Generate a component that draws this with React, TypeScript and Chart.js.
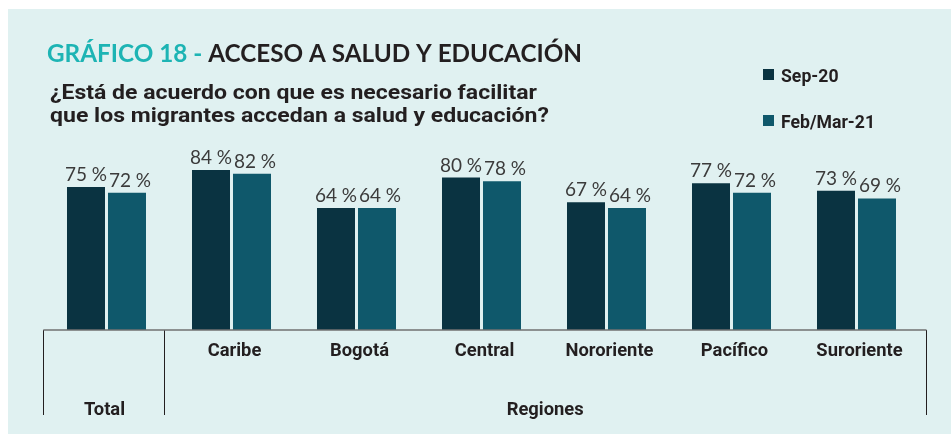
import React, { useEffect, useRef } from "react";
import { Chart, registerables } from "chart.js";

Chart.register(...registerables);

const categories = ["Total", "Caribe", "Bogotá", "Central", "Nororiente", "Pacífico", "Suroriente"];
const sep20 = [75, 84, 64, 80, 67, 77, 73];
const febMar21 = [72, 82, 64, 78, 64, 72, 69];
const seriesLabels = ["Sep-20", "Feb/Mar-21"];
const groupLabel = "Regiones";
const titleLead = "GRÁFICO 18 - ";
const titleMain = "ACCESO A SALUD Y EDUCACIÓN";
const subtitleLines = [
  "¿Está de acuerdo con que es necesario facilitar",
  "que los migrantes accedan a salud y educación?",
];

const BG = "#e0f1f1";
const DARK = "#0a3341";
const TEAL = "#0f586b";
const TEXT = "#231f20";
const TITLE_TEAL = "#1db4b4";
const VALUE_TEXT = "#3b3b3b";

function drawScaled(ctx: CanvasRenderingContext2D, text: string, x: number, y: number, sx: number, align: CanvasTextAlign) {
  ctx.save();
  ctx.translate(x, y);
  ctx.scale(sx, 1);
  ctx.textAlign = align;
  ctx.textBaseline = "alphabetic";
  ctx.fillText(text, 0, 0);
  ctx.restore();
}

const decorPlugin = {
  id: "decor",
  beforeDraw(chart: any) {
    const ctx = chart.ctx as CanvasRenderingContext2D;
    ctx.save();
    ctx.fillStyle = BG;
    ctx.fillRect(0, 0, chart.width, chart.height);
    ctx.restore();
  },
  afterDatasetsDraw(chart: any) {
    const ctx = chart.ctx as CanvasRenderingContext2D;
    const area = chart.chartArea;
    const xScale = chart.scales.x;
    const yScale = chart.scales.y;
    const baseY = yScale.getPixelForValue(0);

    // value labels
    ctx.save();
    ctx.font = "400 19px Lato";
    ctx.fillStyle = VALUE_TEXT;
    ctx.textAlign = "center";
    ctx.textBaseline = "alphabetic";
    chart.data.datasets.forEach((ds: any, di: number) => {
      const meta = chart.getDatasetMeta(di);
      meta.data.forEach((bar: any, i: number) => {
        ctx.fillText(ds.data[i] + " %", bar.x + (di === 1 ? 3 : 0), bar.y - 6);
      });
    });
    ctx.restore();

    // axis lines
    const catW = xScale.getPixelForValue(1) - xScale.getPixelForValue(0);
    const leftX = area.left - 0.7;
    const divX = xScale.getPixelForValue(0) + catW / 2 - 4.7;
    const rightX = area.right + 7;
    const bottomY = baseY + 85;
    ctx.save();
    ctx.strokeStyle = TEXT;
    ctx.lineWidth = 1;
    [leftX, divX, rightX].forEach((x) => {
      ctx.beginPath();
      ctx.moveTo(Math.round(x) + 0.5, baseY);
      ctx.lineTo(Math.round(x) + 0.5, bottomY);
      ctx.stroke();
    });
    ctx.strokeStyle = "#717171";
    ctx.lineWidth = 1.6;
    ctx.beginPath();
    ctx.moveTo(leftX, baseY);
    ctx.lineTo(rightX + 0.5, baseY);
    ctx.stroke();
    ctx.restore();

    // category labels
    ctx.save();
    ctx.font = "bold 18px Roboto";
    ctx.fillStyle = TEXT;
    const labSx = 1.02;
    categories.forEach((c, i) => {
      const x = xScale.getPixelForValue(i) + (i === 0 ? -2 : 3);
      const y = i === 0 ? bottomY : baseY + 26;
      drawScaled(ctx, c, x, y, labSx, "center");
    });
    drawScaled(ctx, groupLabel, (divX + rightX) / 2, bottomY, labSx, "center");

    // legend
    chart.data.datasets.forEach((ds: any, di: number) => {
      const ly = 60 + di * 46;
      ctx.fillStyle = ds.backgroundColor;
      ctx.fillRect(755, ly, 11, 11);
      ctx.fillStyle = TEXT;
      drawScaled(ctx, ds.label, 773, ly + 13, 0.98, "left");
    });
    ctx.restore();

    // title
    ctx.save();
    ctx.font = "bold 25px Lato";
    const wLead = ctx.measureText(titleLead).width;
    const wMain = ctx.measureText(titleMain).width;
    const tSx = 535 / (wLead + wMain);
    ctx.fillStyle = TITLE_TEAL;
    drawScaled(ctx, titleLead, 39, 53, tSx, "left");
    ctx.fillStyle = TEXT;
    drawScaled(ctx, titleMain, 39 + wLead * tSx, 53, tSx, "left");

    ctx.font = "bold 21px Roboto";
    const sSx = 487 / ctx.measureText(subtitleLines[0]).width;
    subtitleLines.forEach((line, i) => {
      drawScaled(ctx, line, 42, 90 + i * 23, sSx, "left");
    });
    ctx.restore();
  },
};

export default function App() {
  const canvasRef = useRef<HTMLCanvasElement | null>(null);

  useEffect(() => {
    if (!canvasRef.current) return;
    const chart = new Chart(canvasRef.current, {
      type: "bar",
      data: {
        labels: categories,
        datasets: [
          { label: seriesLabels[0], data: sep20, backgroundColor: DARK, borderWidth: 0 },
          { label: seriesLabels[1], data: febMar21, backgroundColor: TEAL, borderWidth: 0 },
        ],
      },
      options: {
        animation: false,
        responsive: true,
        maintainAspectRatio: false,
        layout: { padding: { left: 36, right: 32, top: 130.4, bottom: 104 } },
        datasets: {
          bar: { categoryPercentage: 0.656, barPercentage: 0.927 },
        },
        scales: {
          x: { display: false },
          y: { display: false, min: 0, max: 100 },
        },
        plugins: {
          legend: { display: false },
          tooltip: { enabled: false },
          title: { display: false },
        },
      },
      plugins: [decorPlugin],
    });
    return () => chart.destroy();
  }, []);

  return (
    <div style={{ position: "absolute", left: 8, top: 9, width: 943, height: 425, background: BG }}>
      <canvas ref={canvasRef} />
    </div>
  );
}
